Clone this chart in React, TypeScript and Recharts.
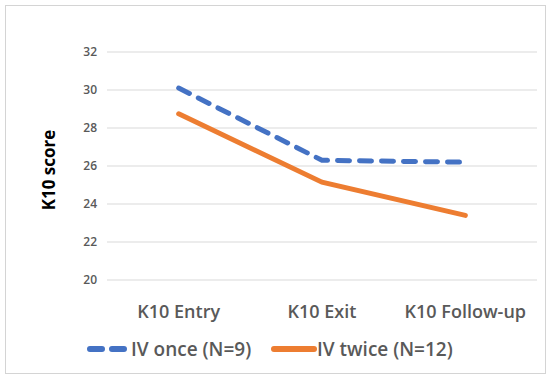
import React from "react";
import { LineChart, Line, XAxis, YAxis, CartesianGrid, Legend } from "recharts";

const categories = ["K10 Entry", "K10 Exit", "K10 Follow-up"];
const ivOnce = [30.1, 26.3, 26.2];
const ivTwice = [28.75, 25.15, 23.4];
const yTicks = [20, 22, 24, 26, 28, 30, 32];

const BLUE = "#4472C4";
const ORANGE = "#ED7D31";
const FONT = "'Open Sans', 'Liberation Sans', sans-serif";

const data = categories.map((c, i) => ({ name: c, once: ivOnce[i], twice: ivTwice[i] }));

function LegendContent() {
  const text = { fontFamily: FONT, fontSize: 19, fontWeight: 600, fill: "#595959" } as const;
  return (
    <svg width={550} height={30} style={{ display: "block" }}>
      <line x1={90} y1={15} x2={128} y2={15} stroke={BLUE} strokeWidth={6} strokeDasharray="12 10" strokeLinecap="round" />
      <text x={131} y={22} {...text}>IV once (N=9)</text>
      <line x1={274} y1={15} x2={314} y2={15} stroke={ORANGE} strokeWidth={6} strokeLinecap="round" />
      <text x={317} y={22} {...text}>IV twice (N=12)</text>
    </svg>
  );
}

export default function App() {
  return (
    <div style={{ position: "absolute", left: 0, top: 0, width: 550, height: 379, background: "#fff" }}>
      <div
        style={{
          position: "absolute",
          left: 5,
          top: 5,
          width: 539,
          height: 367,
          border: "1px solid #d4d4d4",
        }}
      />
      <div style={{ position: "absolute", left: 0, top: 0 }}>
        <LineChart width={550} height={379} data={data} margin={{ top: 52, right: 13, bottom: 39, left: 47 }}>
          <CartesianGrid vertical={false} stroke="#d9d9d9" strokeWidth={1} />
          <XAxis
            dataKey="name"
            scale="band"
            height={30}
            axisLine={false}
            tickLine={false}
            tickSize={0}
            tickMargin={25}
            interval={0}
            tick={{ fontFamily: FONT, fontSize: 18, fontWeight: 600, fill: "#595959" }}
          />
          <YAxis
            width={60}
            domain={[20, 32]}
            ticks={yTicks}
            axisLine={false}
            tickLine={false}
            tickSize={0}
            tickMargin={10}
            tick={{ fontFamily: FONT, fontSize: 12, fontWeight: 600, fill: "#595959" }}
            label={() => (
              <text
                x={48}
                y={170}
                transform="rotate(-90 48 170)"
                textAnchor="middle"
                dominantBaseline="central"
                fontFamily={FONT}
                fontSize={17}
                fontWeight={700}
                fill="#000"
              >
                K10 score
              </text>
            )}
          />
          <Line
            dataKey="once"
            stroke={BLUE}
            strokeWidth={5}
            strokeDasharray="12 10"
            strokeLinecap="round"
            dot={false}
            isAnimationActive={false}
          />
          <Line
            dataKey="twice"
            stroke={ORANGE}
            strokeWidth={5}
            strokeLinecap="round"
            dot={false}
            isAnimationActive={false}
          />
          <Legend
            content={<LegendContent />}
            wrapperStyle={{ position: "absolute", left: 0, top: 334, width: 550 }}
          />
        </LineChart>
      </div>
    </div>
  );
}
